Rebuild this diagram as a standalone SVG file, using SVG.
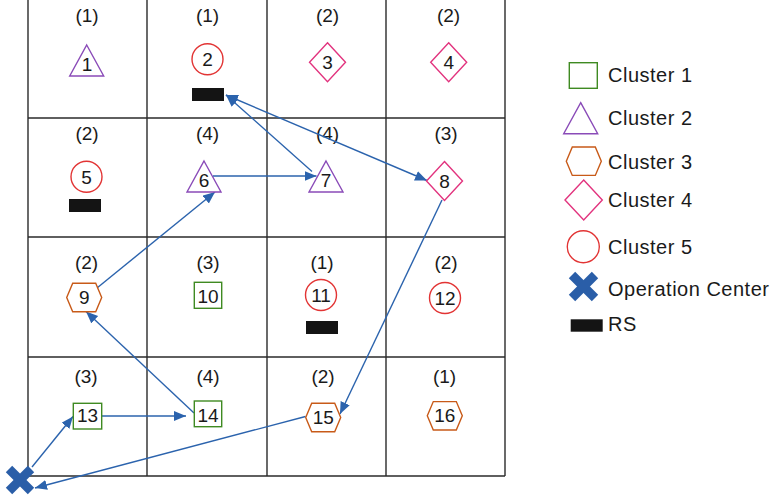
<svg xmlns="http://www.w3.org/2000/svg" width="776" height="500" viewBox="0 0 776 500">
<style>
  text { font-family: "Liberation Sans", Arial, Helvetica, sans-serif; fill: #1a1a1a; }
  .lbl { font-size: 19px; text-anchor: middle; }
  .num { font-size: 19px; text-anchor: middle; }
  .leg { font-size: 20px; letter-spacing: 0.5px; }
  .grid { stroke: #2a2a2a; stroke-width: 1.4; fill: none; }
  .c1 { fill: #fff; stroke: #3f8a22; stroke-width: 1.4; }
  .c2 { fill: #fff; stroke: #8a4bb8; stroke-width: 1.4; }
  .c3 { fill: #fff; stroke: #c85a18; stroke-width: 1.4; }
  .c4 { fill: #fff; stroke: #e2337e; stroke-width: 1.4; }
  .c5 { fill: #fff; stroke: #e23434; stroke-width: 1.4; }
  .rs { fill: #141414; }
  .oc { stroke: #2a5ea8; stroke-width: 9; stroke-linecap: butt; }
  .arr { stroke: #2b63ad; stroke-width: 1.4; fill: none; marker-end: url(#ah); }
  .arr2 { stroke: #2b63ad; stroke-width: 1.4; fill: none; marker-end: url(#ah); marker-start: url(#ah); }
</style>
<defs>
  <marker id="ah" markerUnits="userSpaceOnUse" markerWidth="13" markerHeight="11" refX="12" refY="5" orient="auto-start-reverse">
    <path d="M0,0 L12,5 L0,10 Z" fill="#2b63ad"/>
  </marker>
  <polygon id="tri" points="0,0 17,31 -17,31"/>
  <polygon id="hex" points="-17.5,0 -11.5,-14.2 11.5,-14.2 17.5,0 11.5,14.2 -11.5,14.2"/>
  <polygon id="dia" points="0,-19.5 18,0 0,19.5 -18,0"/>
</defs>

<g id="grid" class="grid">
  <line x1="28" y1="0" x2="28" y2="476"/>
  <line x1="147" y1="0" x2="147" y2="476"/>
  <line x1="267" y1="0" x2="267" y2="476"/>
  <line x1="386" y1="0" x2="386" y2="476"/>
  <line x1="505" y1="0" x2="505" y2="476"/>
  <line x1="28" y1="118" x2="505" y2="118"/>
  <line x1="28" y1="237" x2="505" y2="237"/>
  <line x1="28" y1="357" x2="505" y2="357"/>
  <line x1="28" y1="476" x2="505" y2="476"/>
</g>

<g id="labels">
  <text class="lbl" x="87" y="22">(1)</text>
  <text class="lbl" x="207.5" y="22">(1)</text>
  <text class="lbl" x="327.5" y="22">(2)</text>
  <text class="lbl" x="448.5" y="22">(2)</text>
  <text class="lbl" x="87" y="140">(2)</text>
  <text class="lbl" x="207.5" y="140">(4)</text>
  <text class="lbl" x="327.5" y="140">(4)</text>
  <text class="lbl" x="446" y="140">(3)</text>
  <text class="lbl" x="86.5" y="269">(2)</text>
  <text class="lbl" x="208" y="269">(3)</text>
  <text class="lbl" x="322" y="269">(1)</text>
  <text class="lbl" x="446" y="269">(2)</text>
  <text class="lbl" x="86" y="382.5">(3)</text>
  <text class="lbl" x="208" y="382.5">(4)</text>
  <text class="lbl" x="323" y="382.5">(2)</text>
  <text class="lbl" x="444.5" y="382.5">(1)</text>
</g>

<g id="connectors">
  <line class="arr" x1="213" y1="176" x2="316.5" y2="176"/>
  <line class="arr" x1="312" y1="171.5" x2="226" y2="95"/>
  <line class="arr2" x1="226" y1="95" x2="427" y2="180.5"/>
  <line class="arr" x1="97" y1="288" x2="215" y2="192"/>
  <line class="arr" x1="194" y1="413" x2="86" y2="311.5"/>
  <line class="arr" x1="102" y1="416" x2="186" y2="416"/>
  <line class="arr" x1="32" y1="467" x2="73" y2="416.5"/>
  <line class="arr" x1="305.5" y1="416.5" x2="35" y2="488"/>
  <line class="arr" x1="442" y1="200" x2="340" y2="414"/>
</g>

<g id="n1"><use href="#tri" class="c2" x="86.7" y="45"/><text class="num" x="87" y="71">1</text></g>
<g id="n2"><circle class="c5" cx="207.5" cy="59.3" r="15.5"/><text class="num" x="207.5" y="66">2</text><rect class="rs" x="192" y="88" width="32" height="13"/></g>
<g id="n3"><use href="#dia" class="c4" x="327.5" y="62.3"/><text class="num" x="327.5" y="68.5">3</text></g>
<g id="n4"><use href="#dia" class="c4" x="448.7" y="62.3"/><text class="num" x="448.7" y="68.5">4</text></g>
<g id="n5"><circle class="c5" cx="86.5" cy="176.7" r="15.5"/><text class="num" x="86.5" y="183.5">5</text><rect class="rs" x="69" y="199" width="32" height="13"/></g>
<g id="n6"><use href="#tri" class="c2" x="204" y="161"/><text class="num" x="204" y="187">6</text></g>
<g id="n7"><use href="#tri" class="c2" x="326" y="161"/><text class="num" x="326" y="187">7</text></g>
<g id="n8"><use href="#dia" class="c4" x="444.5" y="181"/><text class="num" x="444.5" y="187.5">8</text></g>
<g id="n9"><use href="#hex" class="c3" x="84.2" y="297.5"/><text class="num" x="84.2" y="303.5">9</text></g>
<g id="n10"><rect class="c1" x="194.3" y="282.3" width="27.4" height="26"/><text class="num" x="208" y="303.3">10</text></g>
<g id="n11"><circle class="c5" cx="321" cy="295" r="15.5"/><text class="num" x="321" y="302">11</text><rect class="rs" x="306" y="321" width="32" height="13"/></g>
<g id="n12"><circle class="c5" cx="445" cy="298" r="15.5"/><text class="num" x="445" y="304.5">12</text></g>
<g id="n13"><rect class="c1" x="73.3" y="403.3" width="28.4" height="25.7"/><text class="num" x="87.5" y="422">13</text></g>
<g id="n14"><rect class="c1" x="194.3" y="401" width="27.4" height="25.7"/><text class="num" x="208" y="421.7">14</text></g>
<g id="n15"><use href="#hex" class="c3" x="323.2" y="417.5"/><text class="num" x="323.2" y="424">15</text></g>
<g id="n16"><use href="#hex" class="c3" x="444.8" y="415.8"/><text class="num" x="444.8" y="422">16</text></g>

<g id="oc">
  <line class="oc" x1="9" y1="469" x2="31" y2="491"/>
  <line class="oc" x1="31" y1="469" x2="9" y2="491"/>
</g>

<g id="legend">
  <rect class="c1" x="569.3" y="62.7" width="28" height="25.6"/>
  <text class="leg" x="608" y="82">Cluster 1</text>
  <use href="#tri" class="c2" x="580.7" y="102.7"/>
  <text class="leg" x="608" y="125">Cluster 2</text>
  <use href="#hex" class="c3" x="583.8" y="161.2"/>
  <text class="leg" x="608" y="168.5">Cluster 3</text>
  <polygon class="c4" points="583.7,180 602.3,200 583.7,220 565,200"/>
  <text class="leg" x="608" y="207">Cluster 4</text>
  <circle class="c5" cx="583.3" cy="246.7" r="16"/>
  <text class="leg" x="608" y="254">Cluster 5</text>
  <line class="oc" x1="572" y1="275" x2="595" y2="298"/>
  <line class="oc" x1="595" y1="275" x2="572" y2="298"/>
  <text class="leg" x="608" y="295.5">Operation Center</text>
  <rect class="rs" x="570.7" y="319.3" width="32" height="12.4"/>
  <text class="leg" x="608" y="331">RS</text>
</g>
</svg>
